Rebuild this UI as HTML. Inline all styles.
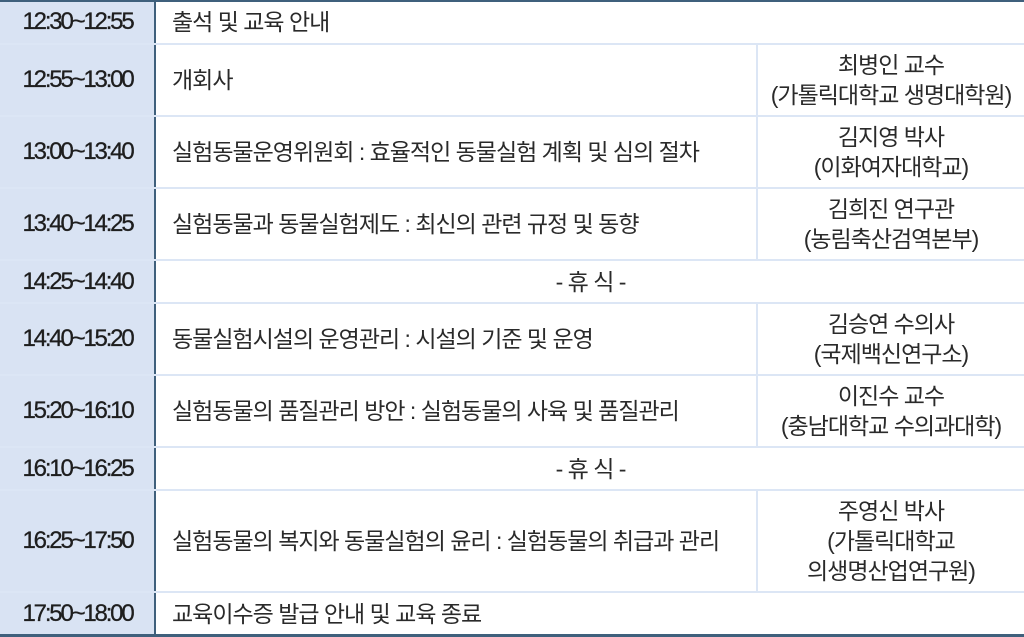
<!DOCTYPE html>
<html><head><meta charset="utf-8"><style>
body{margin:0;width:1024px;height:637px;background:#fff;position:relative;overflow:hidden;font-family:"Liberation Sans","Noto Sans CJK KR",sans-serif;color:#2a2a2a}
.l{position:absolute;left:0;width:155px;background:#d9e3f3}
.t{position:absolute;display:flex;align-items:center;font-size:23px;letter-spacing:-1px;line-height:30px;white-space:nowrap}
.tm{font-size:24px;letter-spacing:-2.2px;color:#1e1e1e;-webkit-text-stroke:0.3px #1e1e1e}
.h{position:absolute;left:0;width:1024px;height:2px;background:#dce6f5}
.v{position:absolute;width:2px;background:#dce6f5}
</style></head><body>
<div class="l" style="top:0;height:637px"></div>
<div style="position:absolute;left:154px;top:0;width:2px;height:637px;background:#3f607c"></div>
<div class="h" style="top:43px"></div><div class="h" style="top:115px"></div><div class="h" style="top:187px"></div><div class="h" style="top:259px"></div><div class="h" style="top:302px"></div><div class="h" style="top:374px"></div><div class="h" style="top:446px"></div><div class="h" style="top:489px"></div><div class="h" style="top:591px"></div>
<div class="v" style="left:756px;top:44px;height:215px"></div>
<div class="v" style="left:756px;top:304px;height:142px"></div>
<div class="v" style="left:756px;top:491px;height:100px"></div>
<div style="position:absolute;left:0;top:0;width:1024px;height:2px;background:#3f607c"></div>
<div style="position:absolute;left:0;top:634px;width:1024px;height:3px;background:#3f607c"></div>

<div class="t tm" style="left:0;width:155px;justify-content:center;top:0;height:44px">12:30~12:55</div>
<div class="t tm" style="left:0;width:155px;justify-content:center;top:44px;height:72px">12:55~13:00</div>
<div class="t tm" style="left:0;width:155px;justify-content:center;top:116px;height:72px">13:00~13:40</div>
<div class="t tm" style="left:0;width:155px;justify-content:center;top:188px;height:72px">13:40~14:25</div>
<div class="t tm" style="left:0;width:155px;justify-content:center;top:260px;height:44px">14:25~14:40</div>
<div class="t tm" style="left:0;width:155px;justify-content:center;top:303px;height:72px">14:40~15:20</div>
<div class="t tm" style="left:0;width:155px;justify-content:center;top:375px;height:72px">15:20~16:10</div>
<div class="t tm" style="left:0;width:155px;justify-content:center;top:447px;height:44px">16:10~16:25</div>
<div class="t tm" style="left:0;width:155px;justify-content:center;top:490px;height:102px">16:25~17:50</div>
<div class="t tm" style="left:0;width:155px;justify-content:center;top:592px;height:43px">17:50~18:00</div>

<div class="t" style="left:172px;top:0;height:44px">출석 및 교육 안내</div>
<div class="t" style="left:172px;top:44px;height:72px">개회사</div>
<div class="t" style="left:172px;top:116px;height:72px">실험동물운영위원회 : 효율적인 동물실험 계획 및 심의 절차</div>
<div class="t" style="left:172px;top:188px;height:72px">실험동물과 동물실험제도 : 최신의 관련 규정 및 동향</div>
<div class="t" style="left:157px;width:867px;justify-content:center;top:260px;height:44px">- 휴 식 -</div>
<div class="t" style="left:172px;top:303px;height:72px">동물실험시설의 운영관리 : 시설의 기준 및 운영</div>
<div class="t" style="left:172px;top:375px;height:72px">실험동물의 품질관리 방안 : 실험동물의 사육 및 품질관리</div>
<div class="t" style="left:157px;width:867px;justify-content:center;top:447px;height:44px">- 휴 식 -</div>
<div class="t" style="left:172px;top:490px;height:102px">실험동물의 복지와 동물실험의 윤리 : 실험동물의 취급과 관리</div>
<div class="t" style="left:172px;top:592px;height:43px">교육이수증 발급 안내 및 교육 종료</div>

<div class="t" style="left:758px;width:266px;justify-content:center;text-align:center;top:44px;height:72px">최병인 교수<br>(가톨릭대학교 생명대학원)</div>
<div class="t" style="left:758px;width:266px;justify-content:center;text-align:center;top:116px;height:72px">김지영 박사<br>(이화여자대학교)</div>
<div class="t" style="left:758px;width:266px;justify-content:center;text-align:center;top:188px;height:72px">김희진 연구관<br>(농림축산검역본부)</div>
<div class="t" style="left:758px;width:266px;justify-content:center;text-align:center;top:303px;height:72px">김승연 수의사<br>(국제백신연구소)</div>
<div class="t" style="left:758px;width:266px;justify-content:center;text-align:center;top:375px;height:72px">이진수 교수<br>(충남대학교 수의과대학)</div>
<div class="t" style="left:758px;width:266px;justify-content:center;text-align:center;top:490px;height:102px">주영신 박사<br>(가톨릭대학교<br>의생명산업연구원)</div>
</body></html>
